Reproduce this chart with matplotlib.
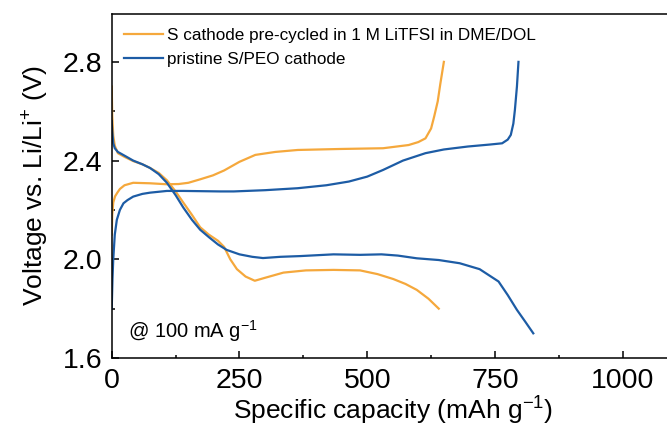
import matplotlib
matplotlib.use("Agg")
import matplotlib.pyplot as plt
from matplotlib.ticker import MultipleLocator

plt.rcParams['font.family'] = ['Liberation Sans', 'DejaVu Sans']
plt.rcParams['mathtext.default'] = 'regular'

# Orange: S cathode pre-cycled in 1 M LiTFSI in DME/DOL
orange_dis_x = [0, 1, 3, 6, 12, 25, 42, 60, 75, 92, 108, 125, 140, 157, 173, 190, 208, 220,
                232, 245, 262, 280, 300, 336, 380, 434, 486, 520, 551, 575, 597, 620, 640]
orange_dis_v = [2.70, 2.58, 2.50, 2.46, 2.43, 2.415, 2.398, 2.385, 2.37, 2.35, 2.32, 2.275, 2.23,
                2.18, 2.13, 2.10, 2.075, 2.05, 2.00, 1.96, 1.93, 1.913, 1.925, 1.946, 1.955, 1.957,
                1.955, 1.94, 1.92, 1.90, 1.876, 1.84, 1.80]
orange_ch_x = [0, 1, 3, 6.5, 11, 16, 25, 42, 75, 108, 131, 150, 173, 198, 220, 250, 281, 320,
               364, 447, 531, 581, 600, 614, 625, 631, 638, 643, 650]
orange_ch_v = [2.10, 2.18, 2.23, 2.255, 2.27, 2.285, 2.30, 2.31, 2.308, 2.304, 2.305, 2.31, 2.324,
               2.34, 2.36, 2.395, 2.423, 2.435, 2.443, 2.447, 2.45, 2.463, 2.475, 2.49, 2.53, 2.578,
               2.64, 2.71, 2.80]

# Blue: pristine S/PEO cathode
blue_dis_x = [0, 1, 3, 6, 12, 25, 42, 60, 75, 92, 108, 125, 140, 157, 173, 190, 208, 225, 250,
              275, 296, 330, 369, 434, 486, 528, 560, 597, 640, 681, 720, 757, 775, 793, 810, 825]
blue_dis_v = [2.56, 2.52, 2.47, 2.45, 2.435, 2.42, 2.40, 2.385, 2.37, 2.345, 2.31, 2.26, 2.21,
              2.16, 2.12, 2.09, 2.06, 2.038, 2.02, 2.01, 2.005, 2.01, 2.013, 2.02, 2.018, 2.02,
              2.015, 2.004, 1.997, 1.984, 1.96, 1.91, 1.855, 1.795, 1.745, 1.70]
blue_ch_x = [0, 1.5, 3, 6, 10, 16, 23, 31, 42, 60, 75, 108, 140, 212, 239, 300, 364, 420, 464,
             500, 531, 570, 614, 650, 697, 740, 764, 775, 781, 786, 789, 793, 796]
blue_ch_v = [1.80, 1.92, 2.00, 2.10, 2.16, 2.20, 2.227, 2.24, 2.254, 2.265, 2.27, 2.277, 2.277,
             2.275, 2.275, 2.28, 2.288, 2.30, 2.315, 2.335, 2.362, 2.40, 2.43, 2.445, 2.457,
             2.465, 2.47, 2.485, 2.504, 2.55, 2.605, 2.70, 2.80]

labels = ['S cathode pre-cycled in 1 M LiTFSI in DME/DOL', 'pristine S/PEO cathode']
x_ticks = [0, 250, 500, 750, 1000]
y_ticks = [1.6, 2.0, 2.4, 2.8]

orange = '#F5A83C'
blue = '#1D5CA5'

fig = plt.figure(figsize=(6.67, 4.32), dpi=100)
ax = fig.add_axes([0.1675, 0.1713, 0.8427, 0.7963])

lw = 1.6
ax.plot(orange_dis_x, orange_dis_v, color=orange, lw=lw, label=labels[0])
ax.plot(orange_ch_x, orange_ch_v, color=orange, lw=lw)
ax.plot(blue_dis_x, blue_dis_v, color=blue, lw=lw, label=labels[1])
ax.plot(blue_ch_x, blue_ch_v, color=blue, lw=lw)

ax.set_xlim(0, 1100)
ax.set_ylim(1.6, 2.994)
ax.set_xticks(x_ticks)
ax.set_yticks(y_ticks)
ax.set_yticklabels([f'{v:.1f}' for v in y_ticks])
ax.xaxis.set_minor_locator(MultipleLocator(125))
ax.yaxis.set_minor_locator(MultipleLocator(0.2))
ax.tick_params(which='major', direction='in', length=5, width=1.1, labelsize=20.5, pad=7,
               top=False, right=False)
ax.tick_params(which='minor', direction='in', length=2.5, width=1.1, top=False, right=False)
for s in ax.spines.values():
    s.set_linewidth(1.1)

ax.set_xlabel('Specific capacity (mAh g$^{-1}$)', fontsize=19, labelpad=1)
ax.set_ylabel('Voltage vs. Li/Li$^{+}$ (V)', fontsize=19, labelpad=8)

ax.text(0.029, 0.078, '@ 100 mA g$^{-1}$', transform=ax.transAxes, fontsize=14.5,
        va='center', ha='left')

ax.legend(loc='upper left', bbox_to_anchor=(0.022, 0.96), frameon=False, fontsize=12.3,
          handlelength=2.3, handletextpad=0.2, labelspacing=0.55, borderaxespad=0,
          borderpad=0)

fig.savefig('out.png', dpi=100)
